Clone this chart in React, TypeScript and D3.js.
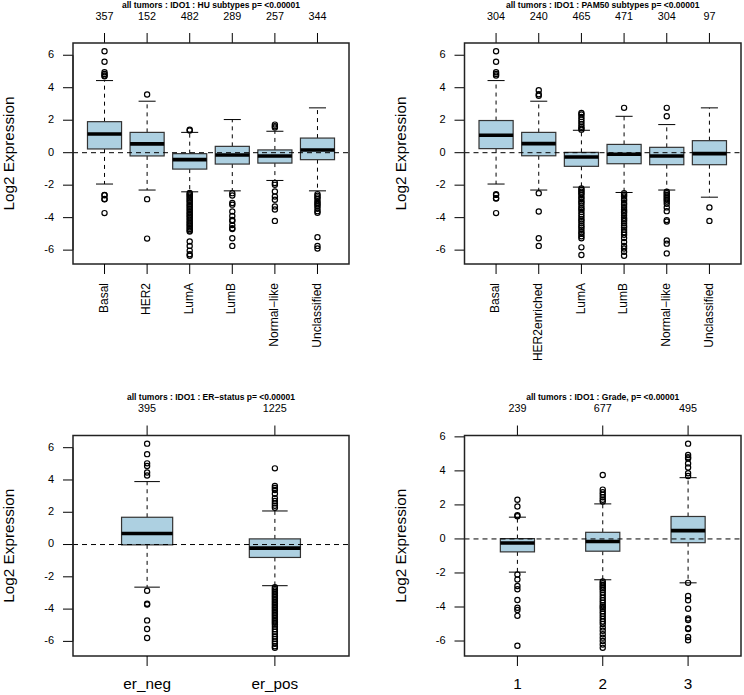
import React from "react";
import * as d3 from "d3";

// ---------- Data ----------
const yTicks = [-6, -4, -2, 0, 2, 4, 6];

// HU subtypes
const huTitle = "all tumors : IDO1 : HU subtypes p= <0.00001";
const huCategories = ["Basal", "HER2", "LumA", "LumB", "Normal\u2212like", "Unclassified"];
const huCounts = [357, 152, 482, 289, 257, 344];
// [lower whisker, q1, median, q3, upper whisker]
const huStats = [
  [-1.93, 0.23, 1.15, 1.91, 4.44],
  [-2.3, -0.2, 0.54, 1.25, 3.17],
  [-2.41, -1.01, -0.43, -0.06, 1.25],
  [-2.35, -0.7, -0.14, 0.39, 2.04],
  [-1.71, -0.64, -0.2, 0.17, 1.32],
  [-2.35, -0.43, 0.17, 0.9, 2.76],
];
const huOutliers = [
  [6.25, 5.6, 4.95, 4.85, 4.75, 4.7, -2.6, -2.62, -2.85, -2.87, -3.72],
  [3.58, -2.86, -5.29],
  [1.42, 1.36, -2.48, -2.56, -2.63, -2.72, -2.8, -2.9, -2.98, -3.07, -3.18, -3.27, -3.36, -3.47, -3.55, -3.66, -3.74, -3.85, -3.93, -4.04, -4.12, -4.23, -4.31, -4.42, -4.5, -4.61, -4.7, -4.79, -4.86, -5.47, -5.74, -6.03, -6.25, -6.35],
  [-2.49, -2.64, -3.1, -3.2, -3.62, -3.9, -4.14, -4.2, -4.46, -4.65, -4.7, -5.27, -5.74],
  [1.73, 1.63, 1.55, -1.87, -1.98, -2.39, -2.7, -2.9, -3.31, -3.5, -4.2],
  [-2.55, -2.65, -2.75, -2.85, -3.0, -3.1, -3.2, -3.3, -3.45, -3.6, -3.7, -5.2, -5.74, -5.9],
];

// PAM50 subtypes
const pamTitle = "all tumors : IDO1 : PAM50 subtypes p= <0.00001";
const pamCategories = ["Basal", "HER2enriched", "LumA", "LumB", "Normal\u2212like", "Unclassified"];
const pamCounts = [304, 240, 465, 471, 304, 97];
const pamStats = [
  [-1.93, 0.25, 1.07, 1.98, 4.44],
  [-2.3, -0.19, 0.56, 1.25, 3.17],
  [-2.12, -0.84, -0.27, 0.02, 1.38],
  [-2.45, -0.68, -0.1, 0.51, 2.24],
  [-2.3, -0.74, -0.2, 0.33, 1.73],
  [-2.74, -0.74, -0.06, 0.74, 2.76],
];
const pamOutliers = [
  [6.25, 5.6, 4.95, 4.85, 4.75, -2.55, -2.6, -2.8, -2.82, -3.72],
  [3.85, 3.6, 3.5, -2.49, -3.62, -5.27, -5.74],
  [2.45, 2.35, 2.2, 2.05, 1.9, 1.75, 1.6, 1.5, 1.42, -2.2, -2.3, -2.4, -2.5, -2.6, -2.75, -2.85, -3.0, -3.1, -3.25, -3.4, -3.5, -3.65, -3.8, -3.95, -4.1, -4.2, -4.35, -4.5, -4.6, -4.75, -4.9, -5.0, -5.15, -5.27, -5.83, -6.3],
  [2.76, -2.5, -2.6, -2.7, -2.85, -2.95, -3.1, -3.2, -3.35, -3.5, -3.6, -3.7, -3.85, -4.0, -4.1, -4.2, -4.35, -4.5, -4.6, -4.75, -4.9, -5.05, -5.25, -5.5, -5.75, -5.9, -6.1, -6.35],
  [2.76, 2.24, -2.4, -2.5, -2.6, -2.7, -2.8, -2.9, -3.0, -3.15, -3.37, -3.6, -4.15, -4.24, -5.4, -5.6, -6.2],
  [-3.37, -4.2],
];

// ER status
const erTitle = "all tumors : IDO1 : ER\u2212status p= <0.00001";
const erCategories = ["er_neg", "er_pos"];
const erCounts = [395, 1225];
const erStats = [
  [-2.64, -0.02, 0.68, 1.69, 3.9],
  [-2.55, -0.8, -0.22, 0.35, 2.08],
];
const erOutliers = [
  [6.25, 5.6, 5.03, 4.87, 4.46, 4.28, -2.86, -3.67, -3.72, -4.7, -5.23, -5.79],
  [4.72, 3.63, 3.5, 3.38, 3.15, 2.87, 2.7, 2.55, 2.4, 2.28, -2.65, -2.75, -2.85, -2.95, -3.05, -3.15, -3.25, -3.35, -3.45, -3.55, -3.65, -3.75, -3.85, -3.95, -4.05, -4.15, -4.25, -4.35, -4.45, -4.55, -4.65, -4.75, -4.85, -4.95, -5.1, -5.25, -5.4, -5.55, -5.7, -5.85, -6.0, -6.15, -6.3, -6.4],
];

// Grade
const gradeTitle = "all tumors : IDO1 : Grade, p= <0.00001";
const gradeCategories = ["1", "2", "3"];
const gradeCounts = [239, 677, 495];
const gradeStats = [
  [-1.95, -0.76, -0.24, 0.02, 1.28],
  [-2.4, -0.72, -0.15, 0.39, 2.06],
  [-2.58, -0.22, 0.49, 1.32, 3.6],
];
const gradeOutliers = [
  [2.3, 1.91, 1.4, 1.33, -2.09, -2.38, -2.77, -2.96, -3.59, -4.04, -4.17, -4.52, -6.28],
  [3.76, 2.9, 2.75, 2.6, 2.45, 2.3, 2.2, -2.5, -2.6, -2.7, -2.8, -2.9, -3.0, -3.15, -3.3, -3.45, -3.6, -3.75, -3.9, -4.0, -4.1, -4.25, -4.4, -4.55, -4.7, -4.85, -5.0, -5.2, -5.4, -5.6, -5.8, -6.0, -6.2, -6.4],
  [5.6, 4.93, 4.8, 4.73, 4.44, 4.2, 3.86, 3.7, -2.58, -3.35, -3.6, -4.1, -4.68, -4.76, -5.25, -5.3, -5.76, -5.95],
];

// ---------- Drawing ----------
const FONT = "'Liberation Sans', Arial, Helvetica, sans-serif";
const BOX_FILL = "#add0e1";

type PanelProps = {
  left: number;
  top: number;
  right: number;
  bottom: number;
  title: string;
  categories: string[];
  counts: number[];
  stats: number[][];
  outliers: number[][];
  boxwex: number;
  rotateLabels: boolean;
};

function Panel(p: PanelProps) {
  const n = p.categories.length;
  const all: number[] = [];
  p.stats.forEach((s) => all.push(...s));
  p.outliers.forEach((o) => all.push(...o));
  const [mn, mx] = d3.extent(all) as [number, number];
  const ext = (mx - mn) * 0.04;
  const y = d3.scaleLinear().domain([mn - ext, mx + ext]).range([p.bottom, p.top]);
  const x = d3.scaleLinear().domain([0.5 - 0.04 * n, n + 0.5 + 0.04 * n]).range([p.left, p.right]);
  const bw = x(1 + p.boxwex / 2) - x(1);
  const tick = 10;
  const dash = "4,4";
  const cx = (p.left + p.right) / 2;
  const cy = (p.top + p.bottom) / 2;
  return (
    <g fontFamily={FONT}>
      {/* title and counts */}
      <text x={cx} y={p.top - 37.5} textAnchor="middle" dominantBaseline="middle" fontSize={8.5} fontWeight="bold" fill="#000">
        {p.title}
      </text>
      {p.counts.map((c, i) => (
        <g key={"c" + i}>
          <text x={x(i + 1)} y={p.top - 26} textAnchor="middle" dominantBaseline="middle" fontSize={10.8} fill="#000">
            {c}
          </text>
          <line x1={x(i + 1)} x2={x(i + 1)} y1={p.top - tick} y2={p.top} stroke="#000" strokeWidth={1} />
        </g>
      ))}
      {/* y axis */}
      <line x1={p.left} x2={p.left} y1={y(-6)} y2={y(6)} stroke="#000" />
      {yTicks.map((t) => (
        <g key={"y" + t}>
          <line x1={p.left - tick} x2={p.left} y1={y(t)} y2={y(t)} stroke="#000" />
          <text x={p.left - 19} y={y(t)} textAnchor="end" dominantBaseline="middle" fontSize={11} fill="#000">
            {t < 0 ? "-" + Math.abs(t) : t}
          </text>
        </g>
      ))}
      <text
        transform={`translate(${p.left - 63},${cy}) rotate(-90)`}
        textAnchor="middle"
        dominantBaseline="middle"
        fontSize={15.3}
        fill="#000"
      >
        Log2 Expression
      </text>
      {/* boxes */}
      {p.stats.map((s, i) => {
        const xc = x(i + 1);
        const [lo, q1, med, q3, hi] = s;
        return (
          <g key={"b" + i}>
            <line x1={xc} x2={xc} y1={y(q3)} y2={y(hi)} stroke="#000" strokeDasharray={dash} />
            <line x1={xc} x2={xc} y1={y(q1)} y2={y(lo)} stroke="#000" strokeDasharray={dash} />
            <line x1={xc - bw / 2} x2={xc + bw / 2} y1={y(hi)} y2={y(hi)} stroke="#000" />
            <line x1={xc - bw / 2} x2={xc + bw / 2} y1={y(lo)} y2={y(lo)} stroke="#000" />
            <rect x={xc - bw} y={y(q3)} width={bw * 2} height={y(q1) - y(q3)} fill={BOX_FILL} stroke="#333" strokeWidth={1.2} />
            <line x1={xc - bw} x2={xc + bw} y1={y(med)} y2={y(med)} stroke="#000" strokeWidth={3.6} />
            {p.outliers[i].map((o, j) => (
              <circle key={j} cx={xc} cy={y(o)} r={2.6} fill="none" stroke="#000" strokeWidth={1.2} />
            ))}
          </g>
        );
      })}
      {/* zero line */}
      <line x1={p.left} x2={p.right} y1={y(0)} y2={y(0)} stroke="#000" strokeDasharray="5,4" />
      {/* frame */}
      <rect x={p.left} y={p.top} width={p.right - p.left} height={p.bottom - p.top} fill="none" stroke="#222" strokeWidth={1.5} />
      {/* bottom ticks and labels */}
      {p.categories.map((c, i) => (
        <g key={"x" + i}>
          <line x1={x(i + 1)} x2={x(i + 1)} y1={p.bottom} y2={p.bottom + tick} stroke="#000" />
          {p.rotateLabels ? (
            <text
              transform={`translate(${x(i + 1)},${p.bottom + 19}) rotate(-90)`}
              textAnchor="end"
              dominantBaseline="middle"
              fontSize={12}
              fill="#000"
            >
              {c}
            </text>
          ) : (
            <text x={x(i + 1)} y={p.bottom + 29} textAnchor="middle" dominantBaseline="middle" fontSize={15.3} fill="#000">
              {c}
            </text>
          )}
        </g>
      ))}
    </g>
  );
}

export default function App() {
  return (
    <svg width={744} height={695} style={{ position: "absolute", left: 0, top: 0, background: "#fff" }}>
      <rect width={744} height={695} fill="#fff" />
      <Panel left={73} top={43} right={349} bottom={264} title={huTitle} categories={huCategories} counts={huCounts} stats={huStats} outliers={huOutliers} boxwex={0.8} rotateLabels />
      <Panel left={464.5} top={43} right={741} bottom={264} title={pamTitle} categories={pamCategories} counts={pamCounts} stats={pamStats} outliers={pamOutliers} boxwex={0.8} rotateLabels />
      <Panel left={73} top={435.5} right={349} bottom={656} title={erTitle} categories={erCategories} counts={erCounts} stats={erStats} outliers={erOutliers} boxwex={0.4} rotateLabels={false} />
      <Panel left={464.5} top={435.5} right={741} bottom={656} title={gradeTitle} categories={gradeCategories} counts={gradeCounts} stats={gradeStats} outliers={gradeOutliers} boxwex={0.4} rotateLabels={false} />
    </svg>
  );
}
